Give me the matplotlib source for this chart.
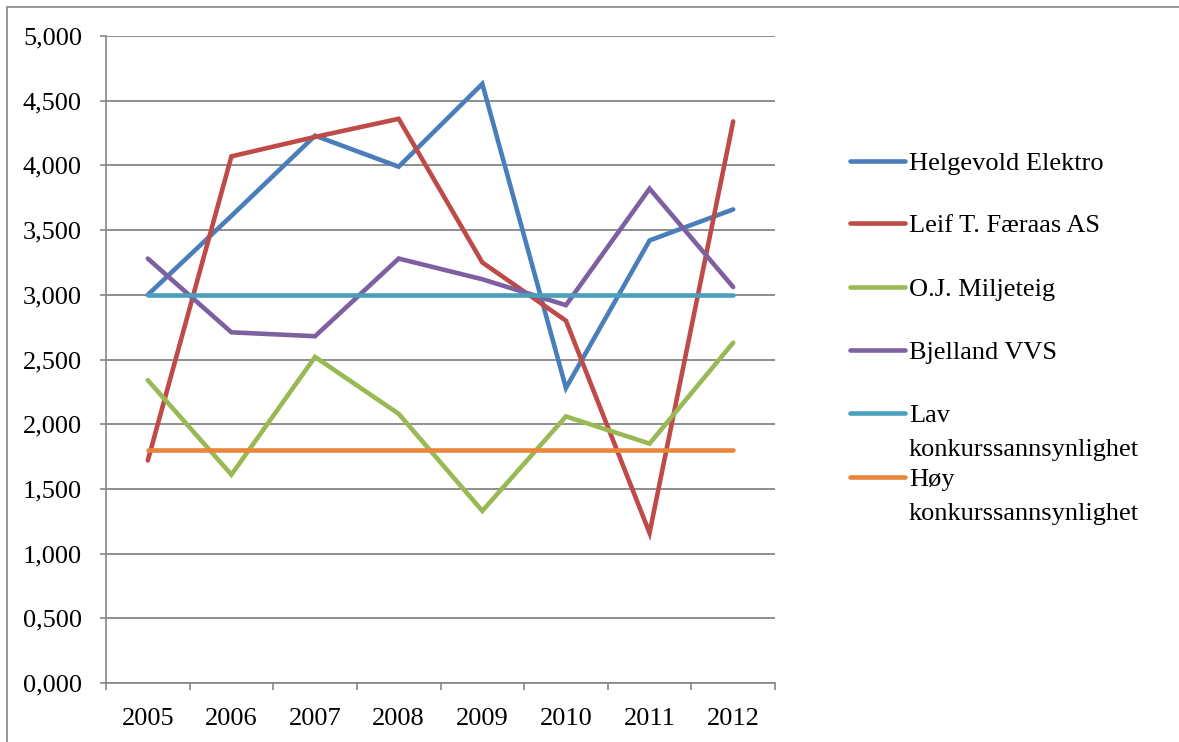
import matplotlib.pyplot as plt
import numpy as np
from matplotlib.patches import Rectangle
from matplotlib.lines import Line2D

plt.rcParams['font.family'] = ['Liberation Serif', 'DejaVu Serif']

years = ['2005', '2006', '2007', '2008', '2009', '2010', '2011', '2012']

helgevold = [3.00, 3.61, 4.23, 3.99, 4.63, 2.28, 3.42, 3.66]
faeraas = [1.72, 4.07, 4.22, 4.36, 3.25, 2.80, 1.16, 4.34]
miljeteig = [2.34, 1.61, 2.52, 2.08, 1.33, 2.06, 1.85, 2.63]
bjelland = [3.28, 2.71, 2.68, 3.28, 3.12, 2.92, 3.82, 3.06]
lav = [3.0] * 8
hoy = [1.8] * 8

series = [
    ('Helgevold Elektro', helgevold, '#4a7ebb'),
    ('Leif T. Færaas AS', faeraas, '#be4b48'),
    ('O.J. Miljeteig', miljeteig, '#98b954'),
    ('Bjelland VVS', bjelland, '#7d60a0'),
    ('Lav\nkonkurssannsynlighet', lav, '#4a9fbb'),
    ('Høy\nkonkurssannsynlighet', hoy, '#e8873c'),
]

W, H = 1179, 742
fig = plt.figure(figsize=(W / 100, H / 100), dpi=100)
# outer chart border (only top and left are visible in the crop)
fig.patches.append(Rectangle((7.5 / W, -0.1), 1.2, 1 - 7 / H + 0.1,
                             transform=fig.transFigure, fill=False,
                             edgecolor='#868686', lw=1.2))

ax = fig.add_axes([106 / W, 1 - 683 / H, 669 / W, 647 / H])
x = np.arange(len(years))
for name, vals, col in series:
    ax.plot(x, vals, color=col, lw=3.3, solid_capstyle='round',
            solid_joinstyle='miter')

ax.set_xlim(-0.5, len(years) - 0.5)
ax.set_ylim(0, 5)
yt = np.arange(0, 5.01, 0.5)
ax.set_yticks(yt)
ax.set_yticklabels([f'{v:.3f}'.replace('.', ',') for v in yt])
ax.set_xticks(x)
ax.set_xticklabels(years)
ax.set_xticks(np.arange(-0.5, len(years), 1), minor=True)
ax.tick_params(axis='x', which='major', length=0, pad=18, labelsize=19)
ax.tick_params(axis='x', which='minor', length=5, color='#868686', width=1.2)
ax.tick_params(axis='y', length=4.3, color='#868686', width=1.2, pad=13, labelsize=19)
ax.grid(axis='y', color='#868686', lw=1.3)
ax.set_axisbelow(True)
for s in ['top', 'right']:
    ax.spines[s].set_visible(False)
for s in ['left', 'bottom']:
    ax.spines[s].set_color('#868686')
    ax.spines[s].set_linewidth(1.2)

# legend drawn by hand so the handle sits on the first text line
leg_y = [161, 223, 287, 350, 413, 477]
line_h = 34
for (name, vals, col), yp in zip(series, leg_y):
    fy = 1 - yp / H
    fig.add_artist(Line2D([850 / W, 905 / W], [fy, fy], color=col, lw=3.3,
                          solid_capstyle='round', transform=fig.transFigure))
    for i, part in enumerate(name.split('\n')):
        fig.text(909 / W, 1 - (yp + 9 + i * line_h) / H, part, fontsize=19,
                 va='baseline', ha='left')

fig.savefig('out.png', dpi=100)
